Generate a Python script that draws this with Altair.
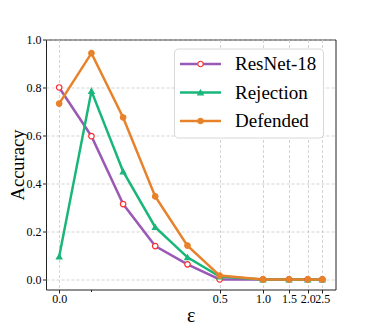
import altair as alt
import pandas as pd

# ---- data ----
eps = [0.0, 0.031, 0.08, 0.16, 0.29, 0.5, 1.0, 1.5, 2.0, 2.5]
resnet = [0.80, 0.597, 0.314, 0.139, 0.063, 0.0, 0.0, 0.0, 0.0, 0.0]
rejection = [0.095, 0.785, 0.45, 0.218, 0.092, 0.012, 0.0, 0.0, 0.0, 0.0]
defended = [0.733, 0.943, 0.675, 0.346, 0.141, 0.016, 0.0, 0.0, 0.0, 0.0]

series_names = ["ResNet-18", "Rejection", "Defended"]
line_colors = ["#9b59b6", "#19b67a", "#e8822a"]
marker_fill = ["#ffffff", "#19b67a", "#e8822a"]
marker_stroke = ["#ff2a2a", "#19b67a", "#e8822a"]
marker_shapes = ["circle", "triangle-up", "circle"]

x_ticks = [0.0, 0.5, 1.0, 1.5, 2.0, 2.5]
x_minor = [0.03]
y_ticks = [0.0, 0.2, 0.4, 0.6, 0.8, 1.0]

rows = []
for k, (name, vals) in enumerate(zip(series_names, [resnet, rejection, defended])):
    for e, v in zip(eps, vals):
        rows.append({"eps": e, "acc": v, "series": name, "order": k})
df = pd.DataFrame(rows)

font = "Liberation Serif"
minor_test = "datum.value > 0.01 && datum.value < 0.1"

x_enc = alt.X(
    "eps:Q",
    scale=alt.Scale(type="symlog", constant=0.05, domain=[-0.01086, 3.054], nice=False, zero=False),
    axis=alt.Axis(
        values=x_ticks + x_minor,
        labelExpr=f"({minor_test}) ? '' : format(datum.value, '.1f')",
        title="ε",
        titleFont=font, titleFontSize=20, titleFontWeight="normal", titleColor="black",
        titleY=32, titleBaseline="alphabetic",
        labelFont=font, labelFontSize=12, labelColor="black",
        labelPadding=0.5, labelOverlap=False, labelFlush=False, labelBound=False,
        tickSize={"condition": {"test": minor_test, "value": 2}, "value": 3.5},
        gridOpacity={"condition": {"test": minor_test, "value": 0}, "value": 1},
    ),
)
y_enc = alt.Y(
    "acc:Q",
    scale=alt.Scale(domain=[-0.042, 1.0], nice=False, zero=False),
    axis=alt.Axis(
        values=y_ticks, format=".1f",
        title="Accuracy",
        titleFont=font, titleFontSize=18.5, titleFontWeight="normal", titleColor="black",
        titleX=-23, titleY=125, titleAngle=-90, titleAlign="center", titleBaseline="alphabetic",
        labelFont=font, labelFontSize=12, labelColor="black", labelPadding=1.5,
        tickSize=3.5, labelOverlap=False,
    ),
)

line_legend = alt.Legend(
    title=None, orient="none", legendX=128, legendY=9, padding=6,
    symbolType="M-4,0L4,0", symbolSize=105, symbolStrokeWidth=2.5, symbolOffset=11,
    labelOffset=25, labelFont=font, labelFontSize=19, labelColor="black", labelLimit=0,
    rowPadding=8.5, fillColor="white", strokeColor="#d8d8d8", cornerRadius=4,
)
point_legend = alt.Legend(
    title=None, orient="none", legendX=128, legendY=9, padding=6,
    symbolSize=30, symbolStrokeWidth=1.2, symbolOffset=11,
    labelOffset=25, labelFont=font, labelFontSize=19, labelOpacity=0, labelLimit=0,
    rowPadding=8.5, zindex=1,
)

lines = alt.Chart(df).mark_line(strokeWidth=2.5).encode(
    x=x_enc, y=y_enc,
    color=alt.Color("series:N", scale=alt.Scale(domain=series_names, range=line_colors), legend=line_legend),
    detail="series:N",
)

sort_def = alt.EncodingSortField(field="order", op="min")
points = alt.Chart(df).mark_point(size=30, strokeWidth=1.2, opacity=1, filled=True).encode(
    x=x_enc, y=y_enc,
    fill=alt.Fill("series:N", sort=sort_def, scale=alt.Scale(range=marker_fill), legend=point_legend),
    stroke=alt.Stroke("series:N", sort=sort_def, scale=alt.Scale(range=marker_stroke), legend=point_legend),
    shape=alt.Shape("series:N", sort=sort_def, scale=alt.Scale(range=marker_shapes), legend=point_legend),
)

chart = alt.layer(lines, points).properties(
    width=289.5, height=250,
    autosize=alt.AutoSizeParams(type="none"),
    padding={"left": 38, "top": 31.5, "right": 20, "bottom": 37},
    background="white",
).configure_view(
    stroke="#222222", strokeWidth=1,
).configure_axis(
    domain=False, grid=True, gridColor="#c8c8c8", gridDash=[3, 2], gridWidth=0.8,
    tickColor="#222222", tickWidth=1,
)

chart.save("out.html", embed_options={"renderer": "svg", "actions": False})
